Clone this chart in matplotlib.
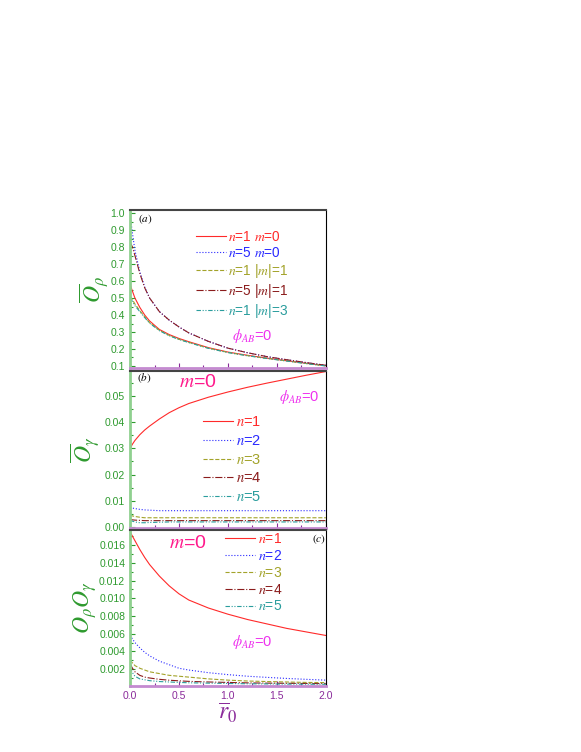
import numpy as np
import matplotlib
matplotlib.use("Agg")
import matplotlib.pyplot as plt
from matplotlib.ticker import MultipleLocator, AutoMinorLocator, FormatStrFormatter

plt.rcParams['font.family'] = ['Liberation Sans', 'DejaVu Sans']
plt.rcParams['mathtext.fontset'] = 'stix'

# r0 sample points
r0 = [0, 0.025, 0.05, 0.1, 0.15, 0.2, 0.3, 0.4, 0.5, 0.6, 0.8, 1.0, 1.2, 1.4, 1.6, 1.8, 2.0]

# panel (a): O_rho bar
a_n1_m0 = [0.58, 0.54, 0.50, 0.445, 0.40, 0.365, 0.315, 0.285, 0.262, 0.243, 0.208, 0.182, 0.163, 0.146, 0.131, 0.116, 0.102]
a_n5_m0 = [0.99, 0.88, 0.78, 0.655, 0.565, 0.50, 0.42, 0.37, 0.33, 0.295, 0.245, 0.205, 0.178, 0.155, 0.137, 0.12, 0.104]
a_n1_m1 = [0.51, 0.49, 0.465, 0.425, 0.39, 0.355, 0.31, 0.28, 0.257, 0.239, 0.205, 0.18, 0.161, 0.145, 0.13, 0.115, 0.101]
a_n5_m1 = [0.83, 0.80, 0.75, 0.645, 0.56, 0.50, 0.42, 0.37, 0.33, 0.295, 0.245, 0.205, 0.178, 0.155, 0.137, 0.12, 0.104]
a_n1_m3 = [0.50, 0.48, 0.455, 0.42, 0.385, 0.352, 0.308, 0.278, 0.256, 0.238, 0.204, 0.179, 0.16, 0.144, 0.129, 0.114, 0.10]

# panel (b): O_gamma bar, m=0
b_n1 = [0.030, 0.0316, 0.0330, 0.0352, 0.0370, 0.0385, 0.0412, 0.0436, 0.0455, 0.0471, 0.0495, 0.0515, 0.0533, 0.0549, 0.0564, 0.0579, 0.0593]
b_n2 = [0.0074, 0.0072, 0.0070, 0.0067, 0.0065, 0.0064, 0.0062, 0.0062, 0.0062, 0.0062, 0.0062, 0.0062, 0.0062, 0.0062, 0.0062, 0.0062, 0.0062]
b_n3 = [0.0044, 0.0042, 0.0040, 0.0037, 0.0035, 0.0035, 0.0035, 0.0035, 0.0035, 0.0035, 0.0035, 0.0035, 0.0035, 0.0035, 0.0035, 0.0035, 0.0035]
b_n4 = [0.0028, 0.0027, 0.0026, 0.0025, 0.0024, 0.0024, 0.0024, 0.0024, 0.0024, 0.0024, 0.0024, 0.0024, 0.0024, 0.0024, 0.0024, 0.0024, 0.0024]
b_n5 = [0.0025, 0.0022, 0.0019, 0.0016, 0.0016, 0.0017, 0.0018, 0.0019, 0.0019, 0.0019, 0.0019, 0.0019, 0.0019, 0.0019, 0.0019, 0.0019, 0.0019]

# panel (c): O_rho O_gamma, m=0
c_n1 = [0.0175, 0.0170, 0.0165, 0.0155, 0.0146, 0.0138, 0.0125, 0.0114, 0.0105, 0.0098, 0.0089, 0.0082, 0.0076, 0.0071, 0.0066, 0.0062, 0.0058]
c_n2 = [0.0058, 0.0054, 0.0050, 0.0044, 0.0039, 0.0035, 0.0029, 0.0025, 0.0021, 0.0019, 0.0016, 0.00138, 0.0012, 0.00107, 0.00095, 0.00085, 0.00076]
c_n3 = [0.0030, 0.0027, 0.0024, 0.0021, 0.0019, 0.0017, 0.0015, 0.0013, 0.0012, 0.0011, 0.0009, 0.00076, 0.00066, 0.0006, 0.00055, 0.0005, 0.00048]
c_n4 = [0.0026, 0.0021, 0.0017, 0.0013, 0.0011, 0.0010, 0.00085, 0.00075, 0.00068, 0.00062, 0.00055, 0.0005, 0.00045, 0.00042, 0.0004, 0.00038, 0.00036]
c_n5 = [0.0022, 0.0016, 0.0012, 0.0009, 0.0008, 0.0007, 0.0006, 0.00055, 0.0005, 0.00046, 0.00042, 0.00038, 0.00035, 0.00033, 0.00031, 0.0003, 0.00029]

red, blue, olive, dred, teal = '#ff2a2a', '#2a2aff', '#a3a32a', '#8b1c1c', '#2a9d9d'
dashdotdot = (0, (4, 1.5, 1, 1.5, 1, 1.5))
styles = [('-', red), (':', blue), ('--', olive), ('-.', dred), (dashdotdot, teal)]

green_lbl = '#2e9a2e'
purple_lbl = '#8a2a9a'
pink = '#ff1a8c'
magenta = '#ee33ee'

fig = plt.figure(figsize=(5.81, 7.52), dpi=100)
left, width = 0.2238, 0.337
axa = fig.add_axes([left, 0.5106, width, 0.2101])
axb = fig.add_axes([left, 0.2979, width, 0.2087])
axc = fig.add_axes([left, 0.0878, width, 0.2074])


def style_ax(ax, xlabels):
    ax.spines['left'].set_color('#8fd08f')
    ax.spines['left'].set_linewidth(2)
    ax.spines['bottom'].set_color('#c48ad0')
    ax.spines['bottom'].set_linewidth(2)
    ax.spines['top'].set_color('#444444')
    ax.spines['top'].set_linewidth(1.5)
    ax.spines['right'].set_color('black')
    ax.spines['right'].set_linewidth(0.8)
    ax.set_xlim(0, 2.0)
    ax.xaxis.set_major_locator(MultipleLocator(0.5))
    ax.xaxis.set_minor_locator(MultipleLocator(0.25))
    ax.yaxis.set_minor_locator(AutoMinorLocator(2))
    ax.tick_params(axis='x', which='both', direction='in', colors=purple_lbl, labelsize=7.5, width=0.8)
    ax.tick_params(axis='x', which='major', length=3.5)
    ax.tick_params(axis='x', which='minor', length=2)
    ax.tick_params(axis='y', which='both', direction='in', colors=green_lbl, labelsize=7.5, width=0.8)
    ax.tick_params(axis='y', which='major', length=3.5)
    ax.tick_params(axis='y', which='minor', length=2)
    if not xlabels:
        ax.tick_params(axis='x', labelbottom=False)


# (a)
labels_a = [r'$n$=1 $m$=0', r'$n$=5 $m$=0', r'$n$=1 |$m$|=1', r'$n$=5 |$m$|=1', r'$n$=1 |$m$|=3']
for ys, (ls, c), lab in zip([a_n1_m0, a_n5_m0, a_n1_m1, a_n5_m1, a_n1_m3], styles, labels_a):
    axa.plot(r0, ys, linestyle=ls, color=c, lw=0.8, label=lab)
style_ax(axa, False)
axa.set_ylim(0.088, 1.018)
axa.yaxis.set_major_locator(MultipleLocator(0.1))
axa.yaxis.set_major_formatter(FormatStrFormatter('%.1f'))
axa.legend(loc='upper left', bbox_to_anchor=(0.335, 0.875), frameon=False, fontsize=9.8,
           handlelength=2.2, handletextpad=0.15, labelspacing=0.15, borderpad=0,
           borderaxespad=0, labelcolor='linecolor')
axa.text(0.04, 0.94, r'$(a)$', transform=axa.transAxes, fontsize=8, va='center')
axa.text(0.52, 0.20, r'$\phi_{AB}$=0', transform=axa.transAxes, fontsize=10.5, color=magenta, va='center')
axa.set_ylabel(r'$\overline{O}_{\rho}$', color=green_lbl, fontsize=17, labelpad=0)

# (b)
labels_n = [r'$n$=1', r'$n$=2', r'$n$=3', r'$n$=4', r'$n$=5']
for ys, (ls, c), lab in zip([b_n1, b_n2, b_n3, b_n4, b_n5], styles, labels_n):
    axb.plot(r0, ys, linestyle=ls, color=c, lw=0.8, label=lab)
style_ax(axb, False)
axb.set_ylim(-0.0004, 0.0595)
axb.yaxis.set_major_locator(MultipleLocator(0.01))
axb.yaxis.set_major_formatter(FormatStrFormatter('%.2f'))
axb.legend(loc='upper left', bbox_to_anchor=(0.372, 0.72), frameon=False, fontsize=10.5,
           handlelength=2.05, handletextpad=0.2, labelspacing=0.33, borderpad=0,
           borderaxespad=0, labelcolor='linecolor')
axb.text(0.035, 0.955, r'$(b)$', transform=axb.transAxes, fontsize=8, va='center')
axb.text(0.25, 0.925, r'$m$=0', transform=axb.transAxes, fontsize=14, color=pink, va='center')
axb.text(0.76, 0.835, r'$\phi_{AB}$=0', transform=axb.transAxes, fontsize=10.5, color=magenta, va='center')
axb.set_ylabel(r'$\overline{O}_{\gamma}$', color=green_lbl, fontsize=17, labelpad=2)

# (c)
for ys, (ls, c), lab in zip([c_n1, c_n2, c_n3, c_n4, c_n5], styles, labels_n):
    axc.plot(r0, ys, linestyle=ls, color=c, lw=0.8, label=lab)
style_ax(axc, True)
axc.set_ylim(0.0001, 0.0177)
axc.set_yticks([0.002, 0.004, 0.006, 0.008, 0.010, 0.012, 0.014, 0.016])
axc.yaxis.set_minor_locator(MultipleLocator(0.001))
axc.yaxis.set_major_formatter(FormatStrFormatter('%.3f'))
axc.legend(loc='upper left', bbox_to_anchor=(0.485, 0.985), frameon=False, fontsize=10,
           handlelength=2.15, handletextpad=0.2, labelspacing=0.2, borderpad=0,
           borderaxespad=0, labelcolor='linecolor')
axc.text(0.93, 0.94, r'$(c)$', transform=axc.transAxes, fontsize=8, va='center')
axc.text(0.2, 0.915, r'$m$=0', transform=axc.transAxes, fontsize=14, color=pink, va='center')
axc.text(0.52, 0.28, r'$\phi_{AB}$=0', transform=axc.transAxes, fontsize=10.5, color=magenta, va='center')
axc.set_ylabel(r'$O_{\rho}O_{\gamma}$', color=green_lbl, fontsize=17, labelpad=0)
axc.set_xlabel(r'$\overline{r}_0$', color=purple_lbl, fontsize=17, labelpad=0)

fig.savefig('out.png', dpi=100)
